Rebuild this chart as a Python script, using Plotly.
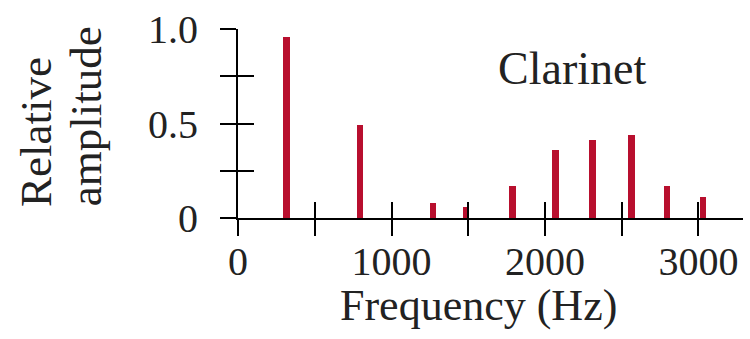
import plotly.graph_objects as go

# Harmonic spectrum of a clarinet tone
freqs_hz = [315, 795, 1270, 1485, 1790, 2070, 2310, 2565, 2795, 3030]
amplitudes = [0.96, 0.49, 0.08, 0.06, 0.17, 0.36, 0.415, 0.44, 0.17, 0.11]

x_tick_vals = [0, 500, 1000, 1500, 2000, 2500, 3000]
x_tick_text = ["0", "", "1000", "", "2000", "", "3000"]
y_tick_vals = [0, 0.25, 0.5, 0.75, 1.0]
y_tick_text = ["0", "", "0.5", "", "1.0"]

X_RANGE = [0, 3290]
Y_RANGE = [0, 1.0]
SERIF = "Liberation Serif, Times New Roman, serif"
INK = "#222222"
BAR_RED = "#B80F2E"

fig = go.Figure()
fig.add_trace(go.Bar(
    x=freqs_hz, y=amplitudes, width=44,
    marker=dict(color=BAR_RED, line=dict(width=0)),
    hoverinfo="x+y",
))
# invisible trace to anchor the inside-tick overlay axes
fig.add_trace(go.Scatter(x=[None], y=[None], xaxis="x2", yaxis="y2",
                         showlegend=False, hoverinfo="skip"))

axis_common = dict(showgrid=False, zeroline=False, tickcolor="black",
                   tickwidth=2, ticklen=16)

fig.update_layout(
    width=750, height=339,
    margin=dict(l=238, r=7, t=25, b=121),
    paper_bgcolor="white", plot_bgcolor="white",
    showlegend=False,
    font=dict(family=SERIF, color=INK),
    xaxis=dict(range=X_RANGE, tickvals=x_tick_vals, ticktext=x_tick_text,
               ticks="outside", showline=True, linecolor="black", linewidth=2,
               tickfont=dict(size=40, family=SERIF, color=INK),
               ticklabelstandoff=-9,
               **axis_common),
    yaxis=dict(range=Y_RANGE, tickvals=y_tick_vals, ticktext=y_tick_text,
               ticks="outside", showline=True, linecolor="black", linewidth=2,
               tickfont=dict(size=40, family=SERIF, color=INK),
               ticklabelstandoff=14,
               **axis_common),
    xaxis2=dict(range=X_RANGE, overlaying="x", side="bottom", anchor="y2",
                tickvals=x_tick_vals[1:], ticks="inside", showticklabels=False,
                showline=False, **axis_common),
    yaxis2=dict(range=Y_RANGE, overlaying="y", side="left", anchor="x2",
                tickvals=y_tick_vals, ticks="inside", showticklabels=False,
                showline=False, **axis_common),
    bargap=0,
)

# axis titles and the instrument label
fig.add_annotation(text="Frequency (Hz)", showarrow=False,
                   xref="paper", yref="paper", x=(478 - 238) / 505, y=-0.461,
                   xanchor="center", yanchor="middle",
                   font=dict(size=44, family=SERIF, color=INK))
fig.add_annotation(text="Relative", textangle=-90, showarrow=False,
                   xref="paper", yref="paper", x=(36 - 238) / 505, y=0.455,
                   xanchor="center", yanchor="middle",
                   font=dict(size=45, family=SERIF, color=INK))
fig.add_annotation(text="amplitude", textangle=-90, showarrow=False,
                   xref="paper", yref="paper", x=(86 - 238) / 505, y=0.539,
                   xanchor="center", yanchor="middle",
                   font=dict(size=45, family=SERIF, color=INK))
fig.add_annotation(text="Clarinet", showarrow=False,
                   xref="paper", yref="paper", x=(572 - 238) / 505, y=0.79,
                   xanchor="center", yanchor="middle",
                   font=dict(size=46, family=SERIF, color=INK))

fig.write_html("out.html")
